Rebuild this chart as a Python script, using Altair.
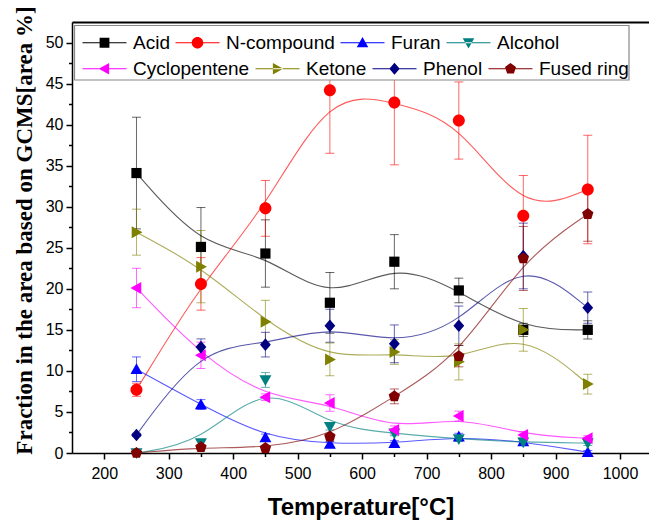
import altair as alt
import pandas as pd

temperature = [250, 350, 450, 550, 650, 750, 850, 950]
series_names = ["Acid", "N-compound", "Furan", "Alcohol",
                "Cyclopentene", "Ketone", "Phenol", "Fused ring"]

acid = [34.1, 25.1, 24.3, 18.3, 23.3, 19.8, 15.0, 15.0]
acid_err = [6.8, 4.8, 4.1, 3.7, 3.3, 1.5, 0.8, 1.1]
n_compound = [7.7, 20.6, 29.8, 44.2, 42.7, 40.5, 28.9, 32.1]
n_compound_err = [0.8, 3.2, 3.4, 7.7, 7.6, 4.7, 4.9, 6.6]
furan = [10.2, 5.9, 1.9, 1.1, 1.2, 2.0, 1.4, 0.1]
furan_err = [1.5, 0.6, 0.4, 0.3, 0.3, 0.4, 0.4, 0.2]
alcohol = [0.0, 1.2, 8.9, 3.2, 2.4, 1.7, 1.3, 1.2]
alcohol_err = [0.1, 0.3, 0.9, 0.4, 0.3, 0.3, 0.3, 0.3]
cyclopentene = [20.1, 11.9, 6.8, 6.1, 2.8, 4.5, 2.2, 1.8]
cyclopentene_err = [2.4, 1.6, 0.4, 1.0, 0.5, 0.6, 0.4, 0.3]
ketone = [26.9, 22.7, 16.0, 11.4, 12.3, 11.1, 15.0, 8.4]
ketone_err = [2.8, 4.4, 2.6, 2.0, 1.5, 2.2, 2.6, 1.2]
phenol = [2.2, 12.9, 13.2, 15.5, 13.3, 15.5, 24.0, 17.7]
phenol_err = [0.2, 1.0, 1.5, 2.0, 2.3, 2.4, 4.0, 1.9]
fused_ring = [0.0, 0.7, 0.6, 2.0, 6.9, 11.8, 23.7, 29.1]
fused_ring_err = [0.1, 0.3, 0.3, 0.3, 0.9, 1.3, 3.9, 3.3]

x_major = [200, 300, 400, 500, 600, 700, 800, 900, 1000]
x_minor = [250, 350, 450, 550, 650, 750, 850, 950]
y_major = [0, 5, 10, 15, 20, 25, 30, 35, 40, 45, 50]
y_minor = [2.5, 7.5, 12.5, 17.5, 22.5, 27.5, 32.5, 37.5, 42.5, 47.5]

all_values = [acid, n_compound, furan, alcohol, cyclopentene, ketone, phenol, fused_ring]
all_errors = [acid_err, n_compound_err, furan_err, alcohol_err,
              cyclopentene_err, ketone_err, phenol_err, fused_ring_err]

colors = ["#000000", "#FF0000", "#0000FF", "#008080",
          "#FF00FF", "#808000", "#000080", "#800000"]

# marker geometry (unit coordinates, y down)
marker_defs = [
    ("poly", [(-0.85, -0.85), (0.85, -0.85), (0.85, 0.85), (-0.85, 0.85)]),
    ("circle", None),
    ("poly", [(0, -1.0), (1.0, 0.8), (-1.0, 0.8)]),
    ("poly", [(0, 1.0), (1.0, -0.8), (-1.0, -0.8)]),
    ("poly", [(-1.0, 0), (0.8, -1.0), (0.8, 1.0)]),
    ("poly", [(1.0, 0), (-0.8, -1.0), (-0.8, 1.0)]),
    ("poly", [(0, -1.05), (0.9, 0), (0, 1.05), (-0.9, 0)]),
    ("poly", [(0, -1.0), (0.951, -0.309), (0.588, 0.809), (-0.588, 0.809), (-0.951, -0.309)]),
]


def marker_path(kind, pts, s, cx=0.0):
    if kind == "circle":
        return (f"M{cx - s:.3f},0A{s:.3f},{s:.3f},0,1,1,{cx + s:.3f},0"
                f"A{s:.3f},{s:.3f},0,1,1,{cx - s:.3f},0Z")
    return "M" + "L".join(f"{cx + x * s:.3f},{y * s:.3f}" for x, y in pts) + "Z"


point_paths = [marker_path(k, p, 1.0) for k, p in marker_defs]
legend_paths = ["M-1,-0.07H4.5V0.07H-1Z" + marker_path(k, p, 0.72, 1.75) for k, p in marker_defs]

rows = []
for i, name in enumerate(series_names):
    for j, t in enumerate(temperature):
        v = all_values[i][j]
        e = all_errors[i][j]
        rows.append({"T": t, "v": v, "lo": v - e, "hi": v + e, "series": name,
                     "col": colors[i], "mk": point_paths[i], "order": i})
df = pd.DataFrame(rows)
caps = df.melt(id_vars=["T", "series", "col", "order"], value_vars=["lo", "hi"],
               var_name="end", value_name="cap")

xs = alt.Scale(domain=[150, 1045], nice=False, zero=False)
ys = alt.Scale(domain=[0, 52.5], nice=False, zero=False)

label_kw = dict(labelFont="Liberation Sans", labelFontSize=16, labelColor="black",
                tickColor="black", domainColor="black", tickWidth=1.5, domainWidth=1.5)

x_major_axis = alt.Axis(values=x_major, orient="bottom", tickSize=6, labelPadding=6,
                        title="Temperature[°C]", titleFont="Liberation Sans",
                        titleFontSize=24, titleFontWeight="bold", titleColor="black",
                        titlePadding=14, format="d", **label_kw)
x_minor_axis = alt.Axis(values=x_minor, orient="bottom", tickSize=3.5, labels=False,
                        domain=False, title=None, tickColor="black", tickWidth=1.5)
x_top_axis = alt.Axis(orient="top", labels=False, ticks=False, title=None,
                      domainColor="black", domainWidth=2)
y_major_axis = alt.Axis(values=y_major, orient="left", tickSize=6, labelPadding=3,
                        title="Fraction in the area based on GCMS[area %]",
                        titleFont="Liberation Serif", titleFontSize=23,
                        titleFontWeight="bold", titleColor="black", titlePadding=9,
                        titleY=208, format="d", **label_kw)
y_minor_axis = alt.Axis(values=y_minor, orient="left", tickSize=3.5, labels=False,
                        domain=False, title=None, tickColor="black", tickWidth=1.5)

err_rules = alt.Chart(df).mark_rule(strokeWidth=1, opacity=0.6).encode(
    x=alt.X("T:Q", scale=xs, axis=x_minor_axis),
    y=alt.Y("lo:Q", scale=ys, axis=y_minor_axis),
    y2="hi:Q",
    color=alt.Color("col:N", scale=None),
)

err_caps = alt.Chart(caps).mark_tick(orient="horizontal", size=9, thickness=1, opacity=0.6).encode(
    x=alt.X("T:Q", scale=xs, axis=x_top_axis),
    y=alt.Y("cap:Q", scale=ys, axis=None),
    color=alt.Color("col:N", scale=None),
)

lines = alt.Chart(df).mark_line(interpolate="basis", strokeWidth=1.1, opacity=0.65).encode(
    x=alt.X("T:Q", scale=xs, axis=x_major_axis),
    y=alt.Y("v:Q", scale=ys, axis=y_major_axis),
    detail="series:N",
    color=alt.Color("col:N", scale=None),
)

points = alt.Chart(df).mark_point(filled=True, size=144, opacity=1).encode(
    x=alt.X("T:Q", scale=xs, axis=None),
    y=alt.Y("v:Q", scale=ys, axis=None),
    color=alt.Color("col:N", scale=None),
    shape=alt.Shape("mk:N", scale=None),
    order="order:Q",
)

# legend frame (decoration only)
frame = alt.Chart(pd.DataFrame({"k": [0]})).mark_rect(
    fill="white", stroke="#888888", strokeWidth=1.2).encode(
    x=alt.value(2.5), x2=alt.value(557), y=alt.value(3.5), y2=alt.value(58))


def legend_row(names, row_colors, row_paths, ly):
    lg = alt.Legend(orient="none", legendX=9, legendY=ly, direction="horizontal",
                    title=None, labelFont="Liberation Sans", labelFontSize=19,
                    labelColor="black", labelOffset=33, columnPadding=4, padding=0,
                    symbolSize=256, symbolStrokeWidth=0, symbolOpacity=1, labelLimit=300)
    return alt.Chart(df).transform_filter("false").mark_point(
        filled=True, size=256, opacity=1, fillOpacity=1).encode(
        x=alt.X("T:Q", scale=xs, axis=None),
        y=alt.Y("v:Q", scale=ys, axis=None),
        color=alt.Color("series:N", scale=alt.Scale(domain=names, range=row_colors), legend=lg),
        shape=alt.Shape("series:N", scale=alt.Scale(domain=names, range=row_paths), legend=lg),
    )


legend_row1 = legend_row(series_names[:4], colors[:4], legend_paths[:4], 11)
legend_row2 = legend_row(series_names[4:], colors[4:], legend_paths[4:], 37)

chart = alt.layer(err_rules, err_caps, lines, points, frame, legend_row1, legend_row2).resolve_axis(
    x="independent", y="independent"
).resolve_scale(color="independent", shape="independent").resolve_legend(
    color="independent", shape="independent"
).properties(
    width=577, height=431,
    padding={"left": 72, "top": 22, "right": 0, "bottom": 68},
    autosize=alt.AutoSizeParams(type="none"),
).configure_view(stroke=None).configure_axis(grid=False).configure_legend(symbolOpacity=1)

chart.save("out.html", embed_options={"renderer": "svg", "actions": False})
